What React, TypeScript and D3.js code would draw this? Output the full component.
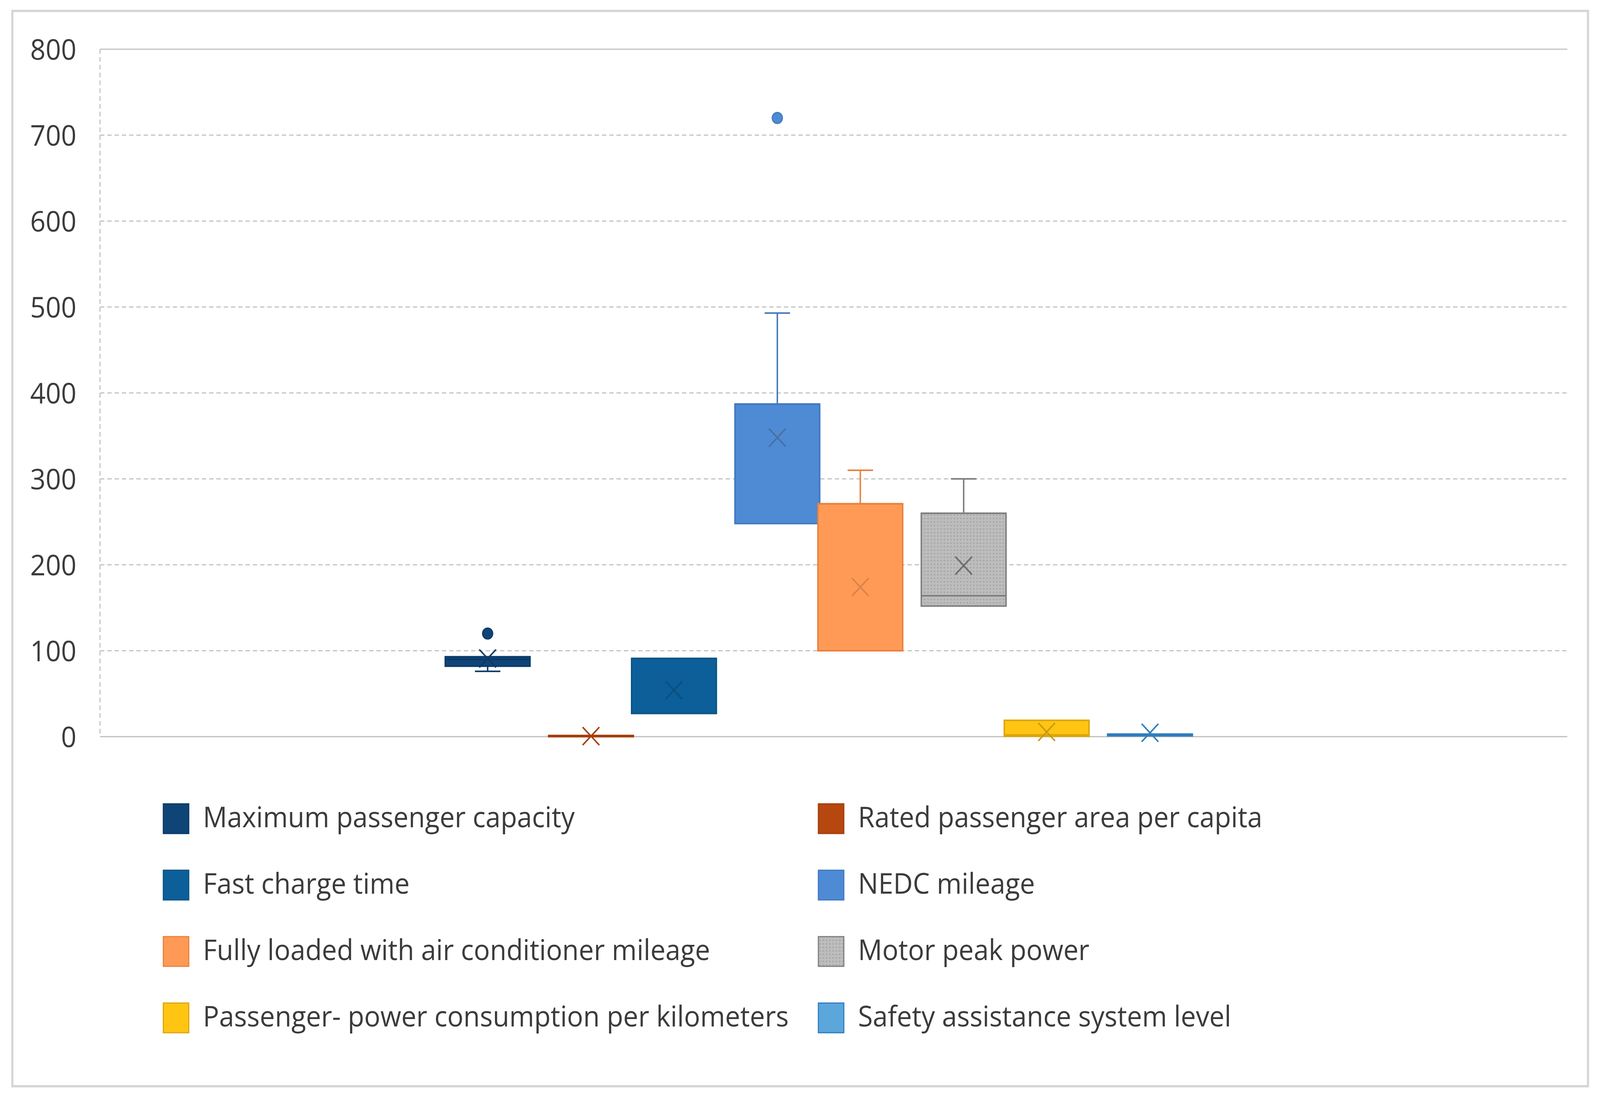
import React from "react";
import * as d3 from "d3";

// ---------- data ----------
const seriesNames = [
  "Maximum passenger capacity",
  "Rated passenger area per capita",
  "Fast charge time",
  "NEDC mileage",
  "Fully loaded with air conditioner mileage",
  "Motor peak power",
  "Passenger- power consumption per kilometers",
  "Safety assistance system level",
];
const mins = [76, 0, 27, 248, 100, 152, 0.5, 1];
const q1s = [82, 0, 27, 248, 100, 152, 0.5, 1];
const medians = [90, 0.5, 91, 387, 271, 164, 2, 2];
const q3s = [93, 1, 91, 387, 271, 260, 19, 3];
const maxs = [93, 1, 91, 493, 310, 300, 19, 3];
const means = [91, 0.6, 54, 348, 174, 199, 5.5, 4.5];
const outliers: number[][] = [[120], [], [], [720], [], [], [], []];
const yTicks = [0, 100, 200, 300, 400, 500, 600, 700, 800];

const fills = ["#0f4477", "#b5470f", "#0c5f98", "#4f8ad4", "#ff9a56", "url(#dots)", "#ffc512", "#5ba7dc"];
const strokes = ["#0b3a68", "#a63e0c", "#0a5386", "#3f78c0", "#e8803e", "#7d7d7d", "#dca50a", "#2f7dbd"];
const meanColors = ["#0b3a68", "#a63e0c", "#0a4f80", "#4a6fa0", "#d9824a", "#6a6a6a", "#c99a10", "#2f7dbd"];

// ---------- layout ----------
const W = 4399;
const H = 2806;
const plotLeft = 275;
const plotRight = 4309;
const plotTop = 126;
const plotBottom = 1886;
const font = "'Open Sans', 'DejaVu Sans', sans-serif";
const textColor = "#3b3b3b";

export default function App() {
  const y = d3.scaleLinear().domain([0, 800]).range([plotBottom, plotTop]);
  const plotW = plotRight - plotLeft;
  // series are laid out in pairs (as in the source rendering)
  const groups = ["g0", "g1", "g2", "g3"];
  const xGroup = d3
    .scalePoint<string>()
    .domain(groups)
    .range([plotLeft + plotW * 0.2353, plotLeft + plotW * 0.6163]);
  const xSub = d3
    .scaleBand<string>()
    .domain(["a", "b"])
    .range([0, plotW * 0.1282])
    .paddingInner(0.18)
    .paddingOuter(0);
  const bw = xSub.bandwidth();
  const xOf = (i: number) => (xGroup(groups[Math.floor(i / 2)]) as number) + (xSub(i % 2 ? "b" : "a") as number);
  const capW = bw * 0.3;
  const xr = 23;

  const legendCols = [449, 2250];
  const legendRow0 = 2058;
  const legendStep = 170;

  return (
    <svg
      viewBox={`0 0 ${W} ${H}`}
      preserveAspectRatio="none"
      style={{ position: "absolute", left: 0, top: 0, display: "block", width: "100vw", height: "100vh", background: "#fff" }}
    >
      <defs>
        <pattern id="dots" width={9} height={9} patternUnits="userSpaceOnUse">
          <rect width={9} height={9} fill="#bdbdbd" />
          <circle cx={4.5} cy={4.5} r={2.2} fill="#a6a6a6" />
        </pattern>
      </defs>
      <rect x={0} y={0} width={W} height={H} fill="#ffffff" />
      {/* outer frame */}
      <rect x={34} y={28} width={4366 - 34} height={2781 - 28} fill="none" stroke="#d6d6d6" strokeWidth={6} />

      {/* gridlines */}
      {yTicks.map((t) => (
        <line
          key={"g" + t}
          x1={plotLeft}
          x2={plotRight}
          y1={y(t)}
          y2={y(t)}
          stroke={t === 0 ? "#bdbdbd" : "#c2c2c2"}
          strokeWidth={3}
          strokeDasharray={t === 0 || t === 800 ? undefined : "12 8"}
        />
      ))}
      <line x1={plotLeft} x2={plotLeft} y1={plotTop} y2={plotBottom} stroke="#c2c2c2" strokeWidth={3} strokeDasharray="12 8" />

      {/* y tick labels */}
      {yTicks.map((t) => (
        <text
          key={"t" + t}
          x={210}
          y={y(t)}
          dy="0.36em"
          textAnchor="end"
          fontFamily={font}
          fontSize={74}
          fill={textColor}
        >
          {t}
        </text>
      ))}

      {/* boxes */}
      {seriesNames.map((name, i) => {
        const x0 = xOf(i);
        const cx = x0 + bw / 2;
        const yq1 = y(q1s[i]);
        const yq3 = y(q3s[i]);
        const boxH = Math.max(yq1 - yq3, 3);
        return (
          <g key={name}>
            {maxs[i] > q3s[i] && (
              <g stroke={strokes[i]} strokeWidth={4}>
                <line x1={cx} x2={cx} y1={y(maxs[i])} y2={yq3} />
                <line x1={cx - capW / 2} x2={cx + capW / 2} y1={y(maxs[i])} y2={y(maxs[i])} />
              </g>
            )}
            {mins[i] < q1s[i] && (
              <g stroke={strokes[i]} strokeWidth={4}>
                <line x1={cx} x2={cx} y1={yq1} y2={y(mins[i])} />
                <line x1={cx - capW / 2} x2={cx + capW / 2} y1={y(mins[i])} y2={y(mins[i])} />
              </g>
            )}
            <rect
              x={x0}
              y={yq1 - boxH}
              width={bw}
              height={boxH}
              fill={fills[i]}
              stroke={strokes[i]}
              strokeWidth={4}
            />
            <line
              x1={x0}
              x2={x0 + bw}
              y1={y(medians[i])}
              y2={y(medians[i])}
              stroke={strokes[i]}
              strokeWidth={4}
            />
            <g stroke={meanColors[i]} strokeWidth={4} fill="none">
              <line x1={cx - xr} y1={y(means[i]) - xr} x2={cx + xr} y2={y(means[i]) + xr} />
              <line x1={cx - xr} y1={y(means[i]) + xr} x2={cx + xr} y2={y(means[i]) - xr} />
            </g>
            {outliers[i].map((o, k) => (
              <circle key={k} cx={cx} cy={y(o)} r={14} fill={fills[i]} stroke={strokes[i]} strokeWidth={3} />
            ))}
          </g>
        );
      })}

      {/* legend */}
      {seriesNames.map((name, i) => {
        const col = i % 2;
        const row = Math.floor(i / 2);
        const sx = legendCols[col];
        const sy = legendRow0 + row * legendStep;
        return (
          <g key={"l" + name}>
            <rect x={sx} y={sy} width={70} height={76} fill={fills[i]} stroke={strokes[i]} strokeWidth={3} />
            <text x={sx + 109} y={sy + 60} fontFamily={font} fontSize={74} fill={textColor}>
              {name}
            </text>
          </g>
        );
      })}
    </svg>
  );
}
